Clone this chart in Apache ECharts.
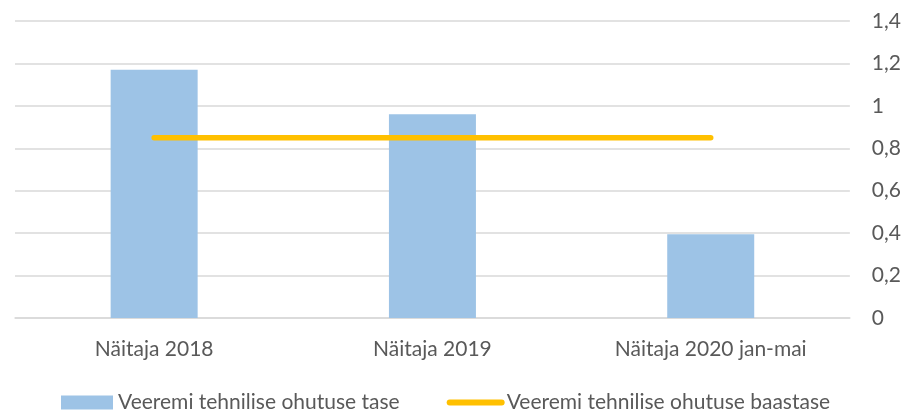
<!DOCTYPE html>
<html>
<head>
<meta charset="utf-8">
<script src="https://cdn.jsdelivr.net/npm/echarts@6/dist/echarts.min.js"></script>
<style>
html,body{margin:0;padding:0;background:#fff;}
#c{width:904px;height:413px;}
</style>
</head>
<body>
<div id="c"></div>
<script>
const categories = ['Näitaja 2018', 'Näitaja 2019', 'Näitaja 2020 jan-mai'];
const levelValues = [1.17, 0.96, 0.395];
const baseValues = [0.85, 0.85, 0.85];
const seriesNames = ['Veeremi tehnilise ohutuse tase', 'Veeremi tehnilise ohutuse baastase'];
const yMin = 0, yMax = 1.4, yStep = 0.2;

const FONT = 'Lato';
const chart = echarts.init(document.getElementById('c'), null, {renderer: 'canvas'});
chart.setOption({
  animation: false,
  backgroundColor: '#ffffff',
  grid: {left: 15, right: 54, top: 21, bottom: 95, containLabel: false},
  legend: {
    left: 61, top: 392, padding: 0,
    itemWidth: 52, itemHeight: 14, itemGap: 47,
    textStyle: {fontFamily: FONT, fontSize: 21, color: '#595959'},
    data: [
      {name: seriesNames[0], icon: 'rect'},
      {name: seriesNames[1], itemStyle: {opacity: 0}, lineStyle: {width: 6, color: '#FFC000', cap: 'round'}}
    ]
  },
  xAxis: {
    type: 'category',
    data: categories,
    axisTick: {show: false},
    axisLine: {show: true, lineStyle: {color: '#D9D9D9', width: 1.5}},
    axisLabel: {fontFamily: FONT, fontSize: 21, color: '#595959', margin: 21}
  },
  yAxis: {
    type: 'value',
    position: 'right',
    min: yMin, max: yMax, interval: yStep,
    axisLine: {show: false},
    axisTick: {show: false},
    splitLine: {lineStyle: {color: '#D9D9D9', width: 1.5}},
    axisLabel: {
      fontFamily: FONT, fontSize: 21, color: '#595959', margin: 22,
      formatter: v => String(Math.round(v * 10) / 10).replace('.', ',')
    }
  },
  series: [
    {
      name: seriesNames[0], type: 'bar', data: levelValues,
      barWidth: 87,
      itemStyle: {color: '#9DC3E6'}
    },
    {
      name: seriesNames[1], type: 'line', data: baseValues,
      symbol: 'none', showSymbol: false, z: 5,
      lineStyle: {color: '#FFC000', width: 5.5, cap: 'round'},
      itemStyle: {color: '#FFC000'}
    }
  ]
});
</script>
</body>
</html>
